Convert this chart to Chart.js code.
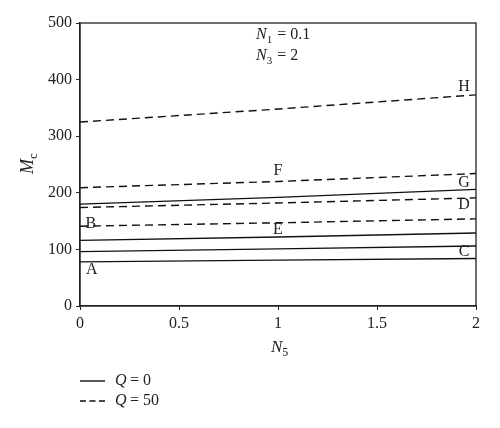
<!DOCTYPE html>
<html lang="en">
  <head>
    <meta charset="UTF-8" />
    <title>Mc vs N5</title>
    <script src="https://cdn.jsdelivr.net/npm/chart.js"></script>
    <style>
      html, body { margin: 0; padding: 0; background: #fff; }
      #wrap { width: 500px; height: 428px; }
    </style>
  </head>
  <body>
    <div id="wrap"><canvas id="mcChart" width="500" height="428"></canvas></div>
    <script>
      // N5 values read at the axis ticks 0, 1, 2
      const n5 = [0, 1, 2];
      // Q = 0 (solid)
      const solidA = [78, 81, 84];
      const solidC = [96, 101, 106];
      const solidE = [116, 122, 129];
      const solidG = [180, 192, 206];
      // Q = 50 (dashed)
      const dashedB = [141, 147, 154];
      const dashedD = [174, 182, 191];
      const dashedF = [209, 220, 234];
      const dashedH = [325, 348, 373];

      const xTicks = [0, 0.5, 1, 1.5, 2];
      const yTicks = [0, 100, 200, 300, 400, 500];

      // curve letters, placed in data coordinates
      const curveLabels = [
        { t: "A", x: 0.06, y: 64 },
        { t: "B", x: 0.055, y: 145 },
        { t: "C", x: 1.94, y: 95 },
        { t: "D", x: 1.94, y: 178 },
        { t: "E", x: 1.0, y: 134 },
        { t: "F", x: 1.0, y: 239 },
        { t: "G", x: 1.94, y: 217 },
        { t: "H", x: 1.94, y: 387 },
      ];

      const serif = '"Liberation Serif", "DejaVu Serif", serif';

      function toPts(ys) {
        return n5.map((x, i) => ({ x: x, y: ys[i] }));
      }

      function curve(ys, dashed) {
        return {
          data: toPts(ys),
          borderColor: "#111",
          borderWidth: 1.4,
          borderDash: dashed ? [8, 5] : [],
          pointRadius: 0,
          tension: 0,
          fill: false,
        };
      }

      // draws "Base" + subscript + rest
      function subText(ctx, base, sub, rest, x, y, size) {
        ctx.font = "italic " + size + "px " + serif;
        ctx.fillText(base, x, y);
        let w = ctx.measureText(base).width;
        ctx.font = Math.round(size * 0.7) + "px " + serif;
        ctx.fillText(sub, x + w, y + size * 0.22);
        w += ctx.measureText(sub).width;
        if (rest) {
          ctx.font = size + "px " + serif;
          ctx.fillText(rest, x + w + 1, y);
        }
      }

      const decorPlugin = {
        id: "decor",
        afterDraw(chart) {
          const ctx = chart.ctx;
          const a = chart.chartArea;
          const xs = chart.scales.x;
          const ys = chart.scales.y;
          ctx.save();
          // box around plot
          ctx.strokeStyle = "#222";
          ctx.lineWidth = 1.3;
          ctx.strokeRect(a.left, a.top, a.right - a.left, a.bottom - a.top);

          ctx.fillStyle = "#222";
          ctx.textBaseline = "middle";
          ctx.textAlign = "center";
          ctx.font = "16px " + serif;
          curveLabels.forEach((l) => {
            ctx.fillText(l.t, xs.getPixelForValue(l.x), ys.getPixelForValue(l.y));
          });

          ctx.textAlign = "left";
          ctx.textBaseline = "alphabetic";
          subText(ctx, "N", "1", " = 0.1", 256, 39, 16);
          subText(ctx, "N", "3", " = 2", 256, 60, 16);

          // x title
          subText(ctx, "N", "5", "", 271, 352, 17);

          // y title
          ctx.save();
          ctx.translate(33, 166);
          ctx.rotate(-Math.PI / 2);
          subText(ctx, "M", "c", "", -8, 0, 18);
          ctx.restore();

          // legend
          ctx.strokeStyle = "#111";
          ctx.lineWidth = 1.4;
          ctx.beginPath();
          ctx.moveTo(80, 381);
          ctx.lineTo(105, 381);
          ctx.stroke();
          ctx.setLineDash([6, 3.5]);
          ctx.beginPath();
          ctx.moveTo(80, 401);
          ctx.lineTo(106, 401);
          ctx.stroke();
          ctx.setLineDash([]);
          ctx.textBaseline = "middle";
          ctx.font = "italic 16px " + serif;
          ctx.fillText("Q", 115, 381);
          ctx.fillText("Q", 115, 401);
          ctx.font = "16px " + serif;
          ctx.fillText("= 0", 130, 381);
          ctx.fillText("= 50", 130, 401);
          ctx.restore();
        },
      };

      new Chart(document.getElementById("mcChart"), {
        type: "line",
        data: {
          datasets: [
            curve(solidA, false),
            curve(solidC, false),
            curve(solidE, false),
            curve(solidG, false),
            curve(dashedB, true),
            curve(dashedD, true),
            curve(dashedF, true),
            curve(dashedH, true),
          ],
        },
        options: {
          responsive: false,
          animation: false,
          devicePixelRatio: 1,
          layout: { padding: { top: 23, right: 24, left: 0, bottom: 0 } },
          plugins: { legend: { display: false }, tooltip: { enabled: false } },
          scales: {
            x: {
              type: "linear",
              min: 0,
              max: 2,
              afterBuildTicks: (ax) => { ax.ticks = xTicks.map((v) => ({ value: v })); },
              afterFit: (ax) => { ax.height = 122; },
              grid: { drawOnChartArea: false, tickLength: 4, color: "#222" },
              border: { color: "#222", width: 1.3 },
              ticks: {
                color: "#222",
                padding: 4,
                font: { family: serif, size: 16 },
                callback: (v) => String(v),
              },
            },
            y: {
              min: 0,
              max: 500,
              afterBuildTicks: (ax) => { ax.ticks = yTicks.map((v) => ({ value: v })); },
              afterFit: (ax) => { ax.width = 80; },
              grid: { drawOnChartArea: false, tickLength: 4, color: "#222" },
              border: { color: "#222", width: 1.3 },
              ticks: { color: "#222", padding: 4, font: { family: serif, size: 16 } },
            },
          },
        },
        plugins: [decorPlugin],
      });
    </script>
  </body>
</html>
